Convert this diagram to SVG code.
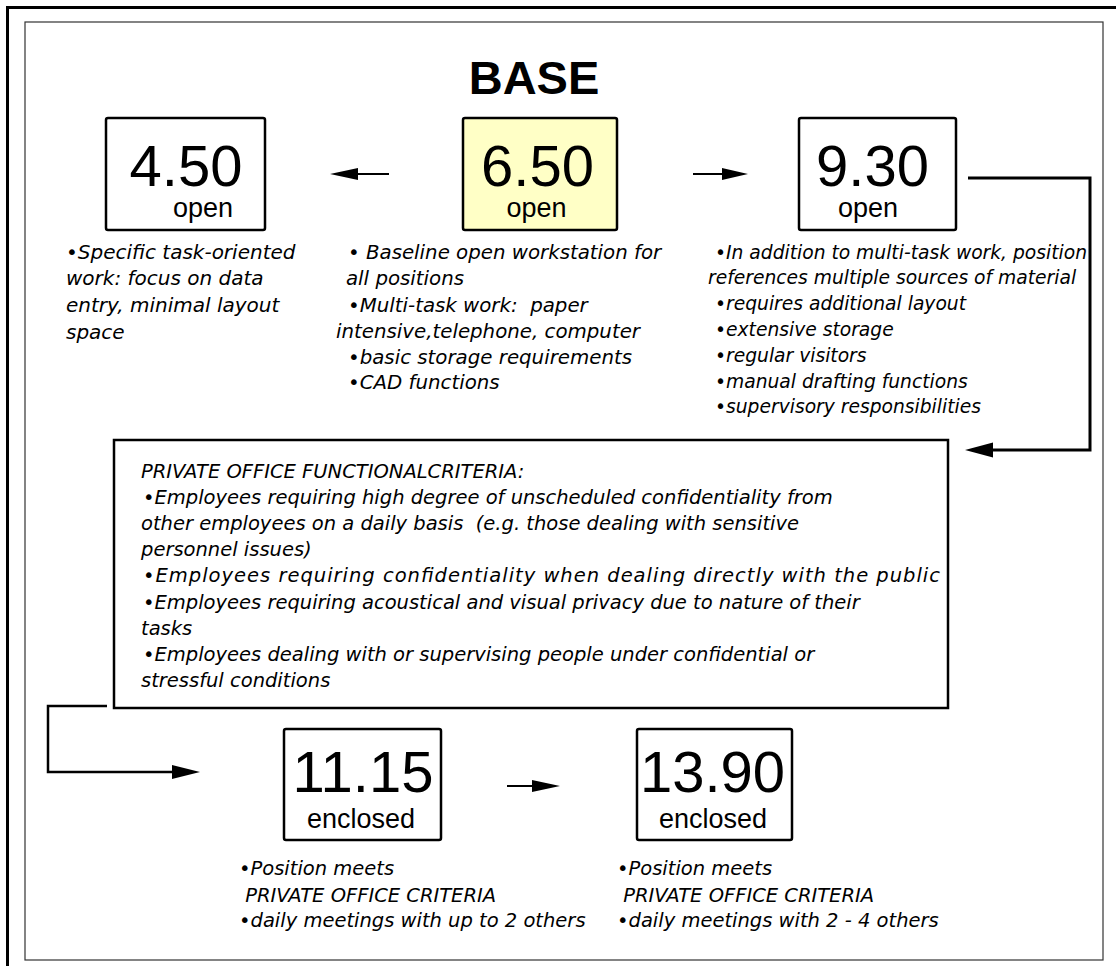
<svg xmlns="http://www.w3.org/2000/svg" width="1116" height="966" viewBox="0 0 1116 966">
<defs>
<style>
.num{font-family:"Liberation Sans",Arial,sans-serif;font-size:58px;fill:#000;text-anchor:middle}
.lab{font-family:"Liberation Sans",Arial,sans-serif;font-size:27px;fill:#000;text-anchor:middle}
.box{fill:#fff;stroke:#000;stroke-width:2.5}
.note{font-family:"DejaVu Sans",Verdana,sans-serif;font-style:italic;font-size:19.5px;fill:#000;white-space:pre}
.c1{font-size:20px}
.c2{font-size:19.8px}
.c3{font-size:18.7px}
.conn{fill:none;stroke:#000;stroke-width:2.5}
.head{fill:#000}
</style>
</defs>
<rect x="0" y="0" width="1116" height="966" fill="#fff"/>
<rect x="7.5" y="7.5" width="1120" height="970" fill="none" stroke="#000" stroke-width="3"/>
<rect x="25" y="22" width="1078" height="938" fill="none" stroke="#333" stroke-width="1.2"/>

<text x="534" y="94" font-family="Liberation Sans, Arial, sans-serif" font-size="47" font-weight="bold" text-anchor="middle">BASE</text>

<g id="node-450">
<rect class="box" x="106" y="118" width="159" height="112" rx="2"/>
<text class="num" x="186" y="186">4.50</text>
<text class="lab" x="203" y="217">open</text>
<text class="note c1" x="66" y="259">•Specific task-oriented</text>
<text class="note c1" x="66" y="285">work: focus on data</text>
<text class="note c1" x="66" y="312">entry, minimal layout</text>
<text class="note c1" x="66" y="339">space</text>
</g>

<g id="node-650">
<rect class="box" x="463" y="118" width="154" height="112" rx="2" style="fill:#FFFFC6"/>
<text class="num" x="537.5" y="186">6.50</text>
<text class="lab" x="536.5" y="217">open</text>
<text class="note c2" x="348" y="259">• Baseline open workstation for</text>
<text class="note c2" x="346" y="285">all positions</text>
<text class="note c2" x="348" y="312">•Multi-task work:  paper</text>
<text class="note c2" x="336" y="338">intensive,telephone, computer</text>
<text class="note c2" x="348" y="364">•basic storage requirements</text>
<text class="note c2" x="348" y="389">•CAD functions</text>
</g>

<g id="node-930">
<rect class="box" x="799" y="118" width="157" height="112" rx="2"/>
<text class="num" x="872.5" y="186">9.30</text>
<text class="lab" x="868" y="217">open</text>
<text class="note c3" x="715" y="259">•In addition to multi-task work, position</text>
<text class="note c3" x="708" y="284">references multiple sources of material</text>
<text class="note c3" x="715" y="310">•requires additional layout</text>
<text class="note c3" x="715" y="336">•extensive storage</text>
<text class="note c3" x="715" y="362">•regular visitors</text>
<text class="note c3" x="715" y="388">•manual drafting functions</text>
<text class="note c3" x="715" y="413">•supervisory responsibilities</text>
</g>

<g id="node-criteria">
<rect x="114" y="440" width="834" height="268" fill="#fff" stroke="#000" stroke-width="2.5"/>
<text class="note" x="141" y="478">PRIVATE OFFICE FUNCTIONALCRITERIA:</text>
<text class="note" x="143" y="504">•Employees requiring high degree of unscheduled confidentiality from</text>
<text class="note" x="141" y="530">other employees on a daily basis  (e.g. those dealing with sensitive</text>
<text class="note" x="141" y="556">personnel issues)</text>
<text class="note" x="143" y="582" textLength="797" lengthAdjust="spacing">•Employees requiring confidentiality when dealing directly with the public</text>
<text class="note" x="143" y="609">•Employees requiring acoustical and visual privacy due to nature of their</text>
<text class="note" x="141" y="635">tasks</text>
<text class="note" x="143" y="661">•Employees dealing with or supervising people under confidential or</text>
<text class="note" x="141" y="687">stressful conditions</text>
</g>

<g id="node-1115">
<rect class="box" x="284" y="729" width="157" height="111" rx="2"/>
<text class="num" x="363" y="792">11.15</text>
<text class="lab" x="361" y="828">enclosed</text>
<text class="note" x="239" y="875">•Position meets</text>
<text class="note" x="239" y="902"> PRIVATE OFFICE CRITERIA</text>
<text class="note" x="239" y="927">•daily meetings with up to 2 others</text>
</g>

<g id="node-1390">
<rect class="box" x="637" y="729" width="155" height="111" rx="2"/>
<text class="num" x="712.5" y="792">13.90</text>
<text class="lab" x="713" y="828">enclosed</text>
<text class="note" x="617" y="875">•Position meets</text>
<text class="note" x="617" y="902"> PRIVATE OFFICE CRITERIA</text>
<text class="note" x="617" y="927">•daily meetings with 2 - 4 others</text>
</g>

<g id="connectors">
<line x1="389" y1="174" x2="356" y2="174" stroke="#000" stroke-width="2"/>
<polygon class="head" points="330,174 358,168 358,180"/>
<line x1="693" y1="174" x2="724" y2="174" stroke="#000" stroke-width="2"/>
<polygon class="head" points="748,174 722,168 722,180"/>
<polyline class="conn" points="968,178 1090,178 1090,450 991,450" style="stroke-width:3"/>
<polygon class="head" points="965,450 993,442.5 993,457.5"/>
<polyline class="conn" points="107,706 48,706 48,772 174,772"/>
<polygon class="head" points="200,772 172,765 172,779"/>
<line x1="507" y1="786" x2="534" y2="786" stroke="#000" stroke-width="2"/>
<polygon class="head" points="560,786 532,780 532,792"/>
</g>
</svg>
